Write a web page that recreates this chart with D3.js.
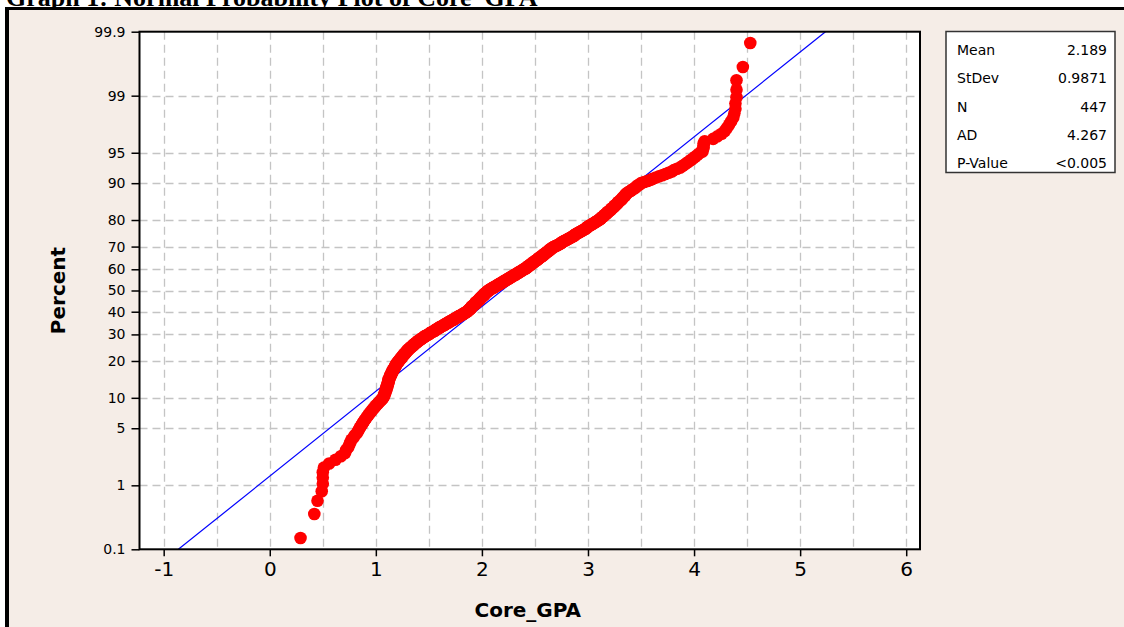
<!DOCTYPE html>
<html>
<head>
<meta charset="utf-8">
<script src="https://cdn.jsdelivr.net/npm/d3@7"></script>
<style>
  html, body { margin: 0; padding: 0; background: #ffffff; }
  svg { display: block; }
</style>
</head>
<body>
<svg id="chart" width="1124" height="627"></svg>
<script>
// Sorted Core_GPA observations (n = 447)
const gpa = [
  0.29, 0.42, 0.45, 0.49, 0.50, 0.50, 0.50, 0.51, 0.56, 0.62, 0.67, 0.71,
  0.72, 0.74, 0.75, 0.76, 0.77, 0.79, 0.80, 0.82,
  0.83, 0.84, 0.85, 0.86, 0.87, 0.88, 0.89, 0.90, 0.91, 0.92,
  0.93, 0.94, 0.95, 0.96, 0.97, 0.98, 0.99, 1.00, 1.01, 1.02, 1.03, 1.04, 1.05, 1.06, 1.07,
  1.07, 1.08, 1.08, 1.08, 1.09, 1.09, 1.09, 1.10, 1.10, 1.10, 1.10, 1.11, 1.11, 1.11, 1.11, 1.12, 1.12, 1.12, 1.12,
  1.12, 1.13, 1.13, 1.13, 1.14, 1.14, 1.14, 1.15, 1.15, 1.15, 1.16, 1.16, 1.16, 1.17, 1.17, 1.18, 1.18, 1.18, 1.19, 1.19, 1.19, 1.20, 1.20, 1.21, 1.21, 1.22,
  1.22, 1.23, 1.23, 1.24, 1.24, 1.25, 1.25, 1.26, 1.26, 1.27, 1.27, 1.28, 1.28, 1.29, 1.29, 1.30, 1.30,
  1.31, 1.31, 1.32, 1.33, 1.33, 1.34, 1.35, 1.35, 1.36, 1.36, 1.37,
  1.38, 1.38, 1.39, 1.40, 1.40, 1.41, 1.42, 1.43, 1.43, 1.44, 1.45, 1.46, 1.46, 1.47, 1.48, 1.49,
  1.50, 1.51, 1.51, 1.52, 1.53, 1.54, 1.55, 1.56, 1.56, 1.57, 1.58, 1.59, 1.60, 1.60, 1.61, 1.62, 1.63, 1.64, 1.65, 1.65,
  1.66, 1.67, 1.68, 1.69, 1.69, 1.70, 1.71, 1.72, 1.73, 1.74, 1.74, 1.75, 1.76, 1.77, 1.78, 1.78, 1.79, 1.80, 1.81, 1.82,
  1.83, 1.83, 1.84, 1.85, 1.86,
  1.86, 1.87, 1.87, 1.88, 1.88, 1.89, 1.89, 1.90, 1.90, 1.90, 1.91, 1.91, 1.92, 1.92, 1.93, 1.93, 1.94, 1.94, 1.94, 1.95,
  1.95, 1.96, 1.96, 1.97, 1.97, 1.98, 1.98, 1.98, 1.99, 1.99, 2.00, 2.00, 2.01, 2.01, 2.02, 2.02, 2.02, 2.03, 2.03, 2.04,
  2.04, 2.05, 2.05, 2.06, 2.06,
  2.07, 2.08, 2.08, 2.09, 2.10, 2.11, 2.11, 2.12, 2.13, 2.14, 2.14, 2.15, 2.16, 2.17, 2.17, 2.18, 2.19, 2.20, 2.20, 2.21,
  2.22, 2.23, 2.23, 2.24, 2.25, 2.26, 2.26, 2.27, 2.28, 2.29, 2.29, 2.30, 2.31, 2.32, 2.32, 2.33, 2.34, 2.35, 2.35, 2.36,
  2.37, 2.38, 2.38, 2.39, 2.40,
  2.41, 2.41, 2.42, 2.43, 2.43, 2.44, 2.44, 2.45, 2.46, 2.46, 2.47, 2.48, 2.48, 2.49, 2.49, 2.50, 2.51, 2.51, 2.52, 2.53,
  2.53, 2.54, 2.54, 2.55, 2.56, 2.56, 2.57, 2.58, 2.58, 2.59, 2.59, 2.60, 2.61, 2.61, 2.62, 2.63, 2.63, 2.64, 2.64, 2.65,
  2.66, 2.66, 2.67, 2.68,
  2.69, 2.70, 2.71, 2.72, 2.73, 2.74, 2.75, 2.75, 2.76, 2.77, 2.78, 2.79, 2.80, 2.81, 2.82, 2.83, 2.84, 2.85, 2.86, 2.87,
  2.87, 2.88, 2.89, 2.90, 2.91, 2.92, 2.93, 2.94, 2.95, 2.96, 2.97, 2.98, 2.99, 2.99, 3.00, 3.01, 3.02, 3.03, 3.04, 3.05,
  3.06, 3.07, 3.08, 3.09, 3.10,
  3.11, 3.12, 3.12, 3.13, 3.14, 3.15, 3.15, 3.16, 3.17, 3.18, 3.18, 3.19, 3.20, 3.21, 3.22, 3.22, 3.23, 3.24, 3.25, 3.25,
  3.26, 3.27, 3.28, 3.28, 3.29, 3.30, 3.31, 3.32, 3.32, 3.33, 3.34, 3.35, 3.35, 3.36, 3.37,
  3.38, 3.40, 3.41, 3.42, 3.44, 3.45, 3.46, 3.47, 3.49, 3.50,
  3.53, 3.56, 3.59, 3.61, 3.64, 3.67, 3.70, 3.73, 3.76, 3.79, 3.81, 3.84, 3.87,
  3.89, 3.91, 3.93, 3.95, 3.97, 3.99, 4.01, 4.03, 4.05,
  4.08, 4.08, 4.09, 4.09, 4.09, 4.10,
  4.18, 4.22, 4.26, 4.29, 4.31, 4.33, 4.35, 4.37,
  4.38, 4.39, 4.39, 4.40, 4.40, 4.40,
  4.46, 4.53
];

// Summary table shown beside the plot
const statLabels = ["Mean", "StDev", "N", "AD", "P-Value"];
const statValues = ["2.189", "0.9871", "447", "4.267", "<0.005"];
const fitMean = 2.189;
const fitStDev = 0.9871;

// Axis ticks
const xTicks = [-1, 0, 1, 2, 3, 4, 5, 6];
const xGrid = [-1, -0.5, 0, 0.5, 1, 1.5, 2, 2.5, 3, 3.5, 4, 4.5, 5, 5.5, 6];
const yTicks = [0.1, 1, 5, 10, 20, 30, 40, 50, 60, 70, 80, 90, 95, 99, 99.9];
const yGrid = [1, 5, 10, 20, 30, 40, 50, 60, 70, 80, 90, 95, 99];

// Inverse standard normal CDF (Acklam's rational approximation)
function qnorm(p) {
  const a = [-3.969683028665376e+01, 2.209460984245205e+02, -2.759285104469687e+02,
             1.383577518672690e+02, -3.066479806614716e+01, 2.506628277459239e+00];
  const b = [-5.447609879822406e+01, 1.615858368580409e+02, -1.556989798598866e+02,
             6.680131188771972e+01, -1.328068155288572e+01];
  const c = [-7.784894002430293e-03, -3.223964580411365e-01, -2.400758277161838e+00,
             -2.549732539343734e+00, 4.374664141464968e+00, 2.938163982698783e+00];
  const d = [7.784695709041462e-03, 3.224671290700398e-01, 2.445134137142996e+00,
             3.754408661907416e+00];
  const pl = 0.02425, ph = 1 - pl;
  let q, r;
  if (p < pl) {
    q = Math.sqrt(-2 * Math.log(p));
    return (((((c[0]*q+c[1])*q+c[2])*q+c[3])*q+c[4])*q+c[5]) /
           ((((d[0]*q+d[1])*q+d[2])*q+d[3])*q+1);
  }
  if (p <= ph) {
    q = p - 0.5; r = q * q;
    return (((((a[0]*r+a[1])*r+a[2])*r+a[3])*r+a[4])*r+a[5])*q /
           (((((b[0]*r+b[1])*r+b[2])*r+b[3])*r+b[4])*r+1);
  }
  q = Math.sqrt(-2 * Math.log(1 - p));
  return -(((((c[0]*q+c[1])*q+c[2])*q+c[3])*q+c[4])*q+c[5]) /
          ((((d[0]*q+d[1])*q+d[2])*q+d[3])*q+1);
}

const svg = d3.select("#chart");
const W = 1124, H = 627;

// Plot rectangle
const L = 139.5, R = 920, T = 31.7, B = 549.3;

// Caption strip above the window frame
svg.append("text")
  .attr("x", 6).attr("y", 6)
  .attr("font-family", "Liberation Serif, Times New Roman, serif")
  .attr("font-weight", "bold")
  .attr("font-size", 26)
  .attr("fill", "#000")
  .text("Graph 1: Normal Probability Plot of Core_GPA");

// Window panel and frame
svg.append("rect").attr("x", 6).attr("y", 8).attr("width", W - 6).attr("height", H - 8).attr("fill", "#f5ede7");
svg.append("rect").attr("x", 5).attr("y", 7).attr("width", W - 5).attr("height", 3).attr("fill", "#000");
svg.append("rect").attr("x", 5).attr("y", 7).attr("width", 4).attr("height", H - 7).attr("fill", "#000");

// Scales: linear GPA axis, normal-probability percent axis
const x = d3.scaleLinear().domain([-1.228, 6.13]).range([L, R]);
const zMax = qnorm(0.999);
const zScale = d3.scaleLinear().domain([-zMax, zMax]).range([B, T]);
const y = pct => zScale(qnorm(pct / 100));

// Plot background
svg.append("rect").attr("x", L).attr("y", T).attr("width", R - L).attr("height", B - T).attr("fill", "#ffffff");

// Dashed grid
const grid = svg.append("g").attr("stroke", "#c4c4c4").attr("stroke-width", 1.3).attr("stroke-dasharray", "8,5");
grid.selectAll("line.v").data(xGrid).join("line").attr("class", "v")
  .attr("x1", d => Math.round(x(d)) + 0.5).attr("x2", d => Math.round(x(d)) + 0.5)
  .attr("y1", T).attr("y2", B);
grid.selectAll("line.h").data(yGrid).join("line").attr("class", "h")
  .attr("y1", d => Math.round(y(d)) + 0.5).attr("y2", d => Math.round(y(d)) + 0.5)
  .attr("x1", L).attr("x2", R);

// Clip region for the marks
svg.append("clipPath").attr("id", "plotClip")
  .append("rect").attr("x", L).attr("y", T).attr("width", R - L).attr("height", B - T);

// Fitted normal line
const zLo = -zMax, zHi = zMax;
svg.append("line")
  .attr("clip-path", "url(#plotClip)")
  .attr("x1", x(fitMean + zLo * fitStDev)).attr("y1", zScale(zLo))
  .attr("x2", x(fitMean + zHi * fitStDev)).attr("y2", zScale(zHi))
  .attr("stroke", "#0000ff").attr("stroke-width", 1.2);

// Data points at Minitab plotting positions (i - 0.3) / (n + 0.4)
const n = gpa.length;
const pts = gpa.map((v, i) => ({ v, p: (i + 1 - 0.3) / (n + 0.4) * 100 }));
svg.append("g").attr("clip-path", "url(#plotClip)")
  .selectAll("circle").data(pts).join("circle")
  .attr("cx", d => x(d.v)).attr("cy", d => y(d.p))
  .attr("r", 6.3).attr("fill", "#ff0000");

// Axes
const xAxis = d3.axisBottom(x).tickValues(xTicks).tickSize(7).tickPadding(6)
  .tickFormat(d => d < 0 ? "-" + Math.abs(d) : d);
const gx = svg.append("g").attr("transform", `translate(0,${B})`).call(xAxis);
gx.select(".domain").remove();
gx.selectAll(".tick line").attr("stroke", "#000").attr("stroke-width", 1.5);
gx.selectAll(".tick text").attr("font-family", "DejaVu Sans, Verdana, sans-serif")
  .attr("font-size", 20).attr("fill", "#000");

const yAxis = d3.axisLeft(zScale).tickValues(yTicks.map(p => qnorm(p / 100))).tickSize(8).tickPadding(6)
  .tickFormat((d, i) => String(yTicks[i]));
const gy = svg.append("g").attr("transform", `translate(${L},0)`).call(yAxis);
gy.select(".domain").remove();
gy.selectAll(".tick line").attr("stroke", "#000").attr("stroke-width", 1.5);
gy.selectAll(".tick text").attr("font-family", "DejaVu Sans, Verdana, sans-serif")
  .attr("font-size", 14).attr("fill", "#000");

// Plot frame
svg.append("rect").attr("x", L).attr("y", T).attr("width", R - L).attr("height", B - T)
  .attr("fill", "none").attr("stroke", "#000").attr("stroke-width", 2);

// Axis titles
svg.append("text").attr("x", (L + R) / 2 - 2).attr("y", 617).attr("text-anchor", "middle")
  .attr("font-family", "DejaVu Sans, Verdana, sans-serif").attr("font-weight", "bold")
  .attr("font-size", 20).attr("fill", "#000").text("Core_GPA");
svg.append("text").attr("transform", `translate(65,${(T + B) / 2}) rotate(-90)`).attr("text-anchor", "middle")
  .attr("font-family", "DejaVu Sans, Verdana, sans-serif").attr("font-weight", "bold")
  .attr("font-size", 20).attr("fill", "#000").text("Percent");

// Statistics table
const box = svg.append("g");
box.append("rect").attr("x", 946).attr("y", 31.5).attr("width", 169).attr("height", 141)
  .attr("fill", "#ffffff").attr("stroke", "#333").attr("stroke-width", 1.5);
const rowY = d3.scalePoint().domain(statLabels).range([55, 168]);
box.selectAll("text.lab").data(statLabels).join("text").attr("class", "lab")
  .attr("x", 957).attr("y", d => rowY(d))
  .attr("font-family", "DejaVu Sans, Verdana, sans-serif").attr("font-size", 14).attr("fill", "#000")
  .text(d => d);
box.selectAll("text.val").data(statValues).join("text").attr("class", "val")
  .attr("x", 1107).attr("y", (d, i) => rowY(statLabels[i])).attr("text-anchor", "end")
  .attr("font-family", "DejaVu Sans, Verdana, sans-serif").attr("font-size", 14).attr("fill", "#000")
  .text(d => d);
</script>
</body>
</html>
